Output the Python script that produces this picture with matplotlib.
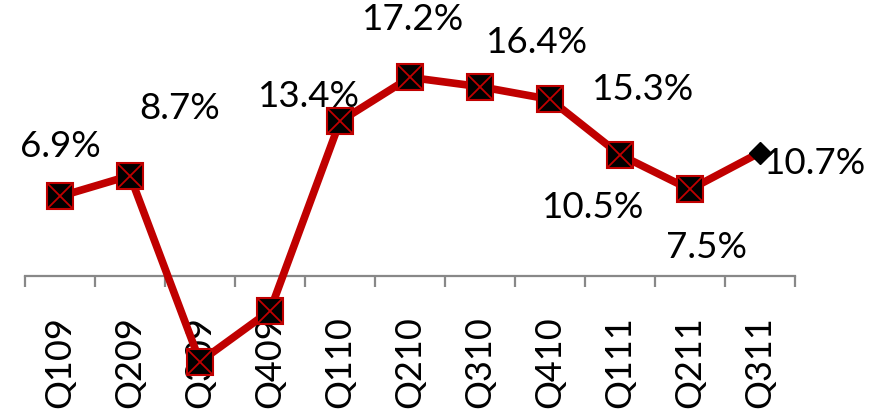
import numpy as np
import matplotlib
matplotlib.use("Agg")
import matplotlib.pyplot as plt

quarters = ["Q109", "Q209", "Q309", "Q409", "Q110", "Q210",
            "Q310", "Q410", "Q111", "Q211", "Q311"]
growth = [6.9, 8.7, -7.4, -3.0, 13.4, 17.2, 16.4, 15.3, 10.5, 7.5, 10.7]
labels = ["6.9%", "8.7%", "", "", "13.4%", "17.2%", "16.4%",
          "15.3%", "10.5%", "7.5%", "10.7%"]
# label offsets in points, as placed in the original
offsets = [(0, 36), (36, 48), (0, 0), (0, 0), (-22, 18), (2, 42),
           (41, 32), (67, 7), (-19, -38), (12, -42), (40, -8)]

plt.rcParams['font.family'] = ['Lato', 'DejaVu Sans']

fig = plt.figure(figsize=(8.73, 4.09), dpi=100)
ax = fig.add_axes([25 / 873, 0, 770 / 873, 1])

x = np.arange(len(quarters))
red = "#c00000"
ax.plot(x, growth, color=red, lw=5.5, zorder=3, solid_joinstyle="round")
ax.plot(x[:-1], growth[:-1], ls="none", marker="s", ms=19, mfc="black",
        mec=red, mew=1.5, zorder=4)
ax.plot(x[:-1], growth[:-1], ls="none", marker="x", ms=17, mec=red,
        mew=1.3, zorder=5)
ax.plot(x[-1], growth[-1], ls="none", marker="D", ms=11, mfc="black",
        mec="black", zorder=5)

for xi, v, lab, off in zip(x, growth, labels, offsets):
    if lab:
        ax.annotate(lab, (xi, v), xytext=off, textcoords="offset points",
                    ha="center", va="center", fontsize=26.5, color="black")

ax.set_xlim(-0.5, len(quarters) - 0.5)
ax.set_ylim(-11.5, 23.9)

for s in ["top", "right", "left"]:
    ax.spines[s].set_visible(False)
ax.spines["bottom"].set_position(("data", 0))
ax.spines["bottom"].set_color("#888888")
ax.spines["bottom"].set_linewidth(1.6)
ax.set_yticks([])

ax.set_xticks(x)
ax.set_xticklabels(quarters, rotation=90, fontsize=26)
ax.tick_params(axis="x", which="major", length=0, pad=29)
ax.set_xticks(np.arange(-0.5, len(quarters)), minor=True)
ax.tick_params(axis="x", which="minor", length=8, width=1.6,
               color="#888888", direction="out")
for lab in ax.get_xticklabels():
    lab.set_verticalalignment("top")

fig.savefig("out.png", dpi=100)
